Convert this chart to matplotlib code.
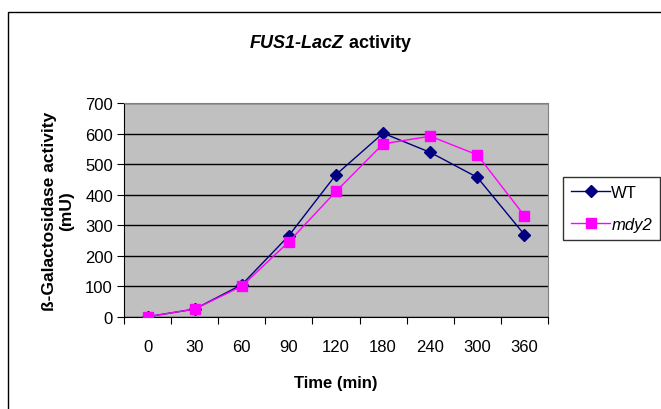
import matplotlib
matplotlib.use('Agg')
import matplotlib.pyplot as plt
from matplotlib.patches import Rectangle

plt.rcParams['font.family'] = ['Liberation Sans', 'DejaVu Sans']

# data
times = ['0', '30', '60', '90', '120', '180', '240', '300', '360']
wt = [0, 25, 105, 266, 466, 602, 539, 457, 269]
mdy2 = [0, 25, 100, 246, 411, 567, 592, 531, 331]
y_ticks = [0, 100, 200, 300, 400, 500, 600, 700]

fig = plt.figure(figsize=(6.61, 4.10), dpi=100)

# outer chart border
fig.patches.append(Rectangle((8 / 661, -0.01), 1.0, 1 - 13 / 410 + 0.01,
                             transform=fig.transFigure, fill=False,
                             edgecolor='black', linewidth=1.0))

ax = fig.add_axes([124 / 661, 1 - 317.7 / 410, (548 - 124) / 661, (317.7 - 104.3) / 410])
ax.set_facecolor('#C0C0C0')

x = list(range(len(times)))
ax.plot(x, wt, color='#000080', marker='D', markersize=6, linewidth=1.0, label='WT', zorder=3)
ax.plot(x, mdy2, color='#FF00FF', marker='s', markersize=7, linewidth=1.0, label='mdy2', zorder=3)

ax.set_xlim(-0.5, len(times) - 0.5)
ax.set_ylim(0, 700)
ax.set_yticks(y_ticks)
ax.set_yticklabels([str(v) for v in y_ticks], fontsize=12)

# Excel-style category axis: ticks between categories, labels in middle
ax.set_xticks([i - 0.5 for i in range(len(times) + 1)])
ax.set_xticklabels([])
ax.set_xticks(x, minor=True)
ax.set_xticklabels(times, minor=True, fontsize=12)
ax.tick_params(axis='x', which='major', length=5, direction='out', color='black')
ax.tick_params(axis='x', which='minor', length=0, pad=16)
ax.tick_params(axis='y', length=5, direction='out', color='black', pad=3)

ax.grid(axis='y', color='black', linewidth=1.0)
ax.set_axisbelow(True)
for side in ['top', 'right']:
    ax.spines[side].set_color('#808080')
for side in ['left', 'bottom']:
    ax.spines[side].set_color('black')

ax.set_xlabel('Time (min)', fontsize=12, fontweight='bold', labelpad=15)
ax.set_ylabel('ß-Galactosidase activity\n(mU)', fontsize=12.5, fontweight='bold',
              labelpad=8, linespacing=1.2)

# title: italic gene name + plain bold word
t1 = fig.text(0.5, 1 - 43 / 410, 'FUS1-LacZ', fontsize=13, fontweight='bold',
              fontstyle='italic', ha='left', va='center')
t2 = fig.text(0.5, 1 - 43 / 410, ' activity', fontsize=13, fontweight='bold',
              ha='left', va='center')
fig.canvas.draw()
r = fig.canvas.get_renderer()
w1 = t1.get_window_extent(r).width
w2 = t2.get_window_extent(r).width
cx = 330
start = cx - (w1 + w2) / 2
t1.set_x(start / 661)
t2.set_x((start + w1) / 661)

leg = ax.legend(loc='upper left', bbox_to_anchor=(563 / 661, 1 - 178 / 410),
                bbox_transform=fig.transFigure, frameon=True, fancybox=False,
                edgecolor='black', fontsize=12, handlelength=2.3,
                borderaxespad=0, borderpad=0.5, handletextpad=0.1,
                labelspacing=1.0)
leg.get_frame().set_linewidth(1.0)
leg.get_texts()[1].set_fontstyle('italic')

fig.savefig('out.png', dpi=100)
